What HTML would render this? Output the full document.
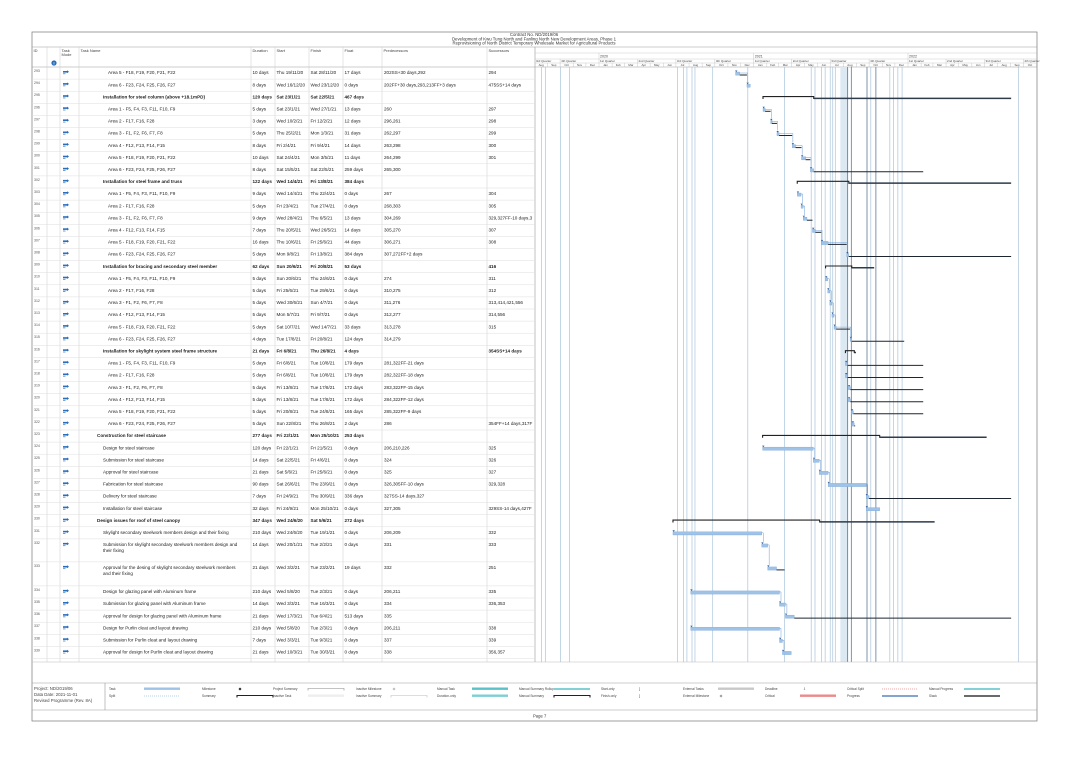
<!DOCTYPE html>
<html><head><meta charset="utf-8">
<style>
html,body{margin:0;padding:0;background:#fff;}
body{width:1069px;height:754px;overflow:hidden;font-family:"Liberation Sans",sans-serif;}
svg text{font-family:"Liberation Sans",sans-serif;}
</style></head>
<body>
<svg id="chart" width="1069" height="754" viewBox="0 0 1069 754" xmlns="http://www.w3.org/2000/svg"></svg>
<script>
const ids=[293,294,295,296,297,298,299,300,301,302,303,304,305,306,307,308,309,310,311,312,313,314,315,316,317,318,319,320,321,322,323,324,325,326,327,328,329,330,331,332,333,334,335,336,337,338,339];
const names=["Area 5 - F18, F19, F20, F21, F22","Area 6 - F23, F24, F25, F26, F27","Installation for steel column (above +18.1mPD)","Area 1 - F5, F4, F3, F11, F10, F9","Area 2 - F17, F16, F28","Area 3 - F1, F2, F6, F7, F8","Area 4 - F12, F13, F14, F15","Area 5 - F18, F19, F20, F21, F22","Area 6 - F23, F24, F25, F26, F27","Installation for steel frame and truss","Area 1 - F5, F4, F3, F11, F10, F9","Area 2 - F17, F16, F28","Area 3 - F1, F2, F6, F7, F8","Area 4 - F12, F13, F14, F15","Area 5 - F18, F19, F20, F21, F22","Area 6 - F23, F24, F25, F26, F27","Installation for bracing and secondary steel member","Area 1 - F5, F4, F3, F11, F10, F9","Area 2 - F17, F16, F28","Area 3 - F1, F2, F6, F7, F8","Area 4 - F12, F13, F14, F15","Area 5 - F18, F19, F20, F21, F22","Area 6 - F23, F24, F25, F26, F27","Installation for skylight system steel frame structure","Area 1 - F5, F4, F3, F11, F10, F9","Area 2 - F17, F16, F28","Area 3 - F1, F2, F6, F7, F8","Area 4 - F12, F13, F14, F15","Area 5 - F18, F19, F20, F21, F22","Area 6 - F23, F24, F25, F26, F27","Construction for steel staircase","Design for steel staircase","Submission for steel staircase","Approval for steel staircase","Fabrication for steel staircase","Delivery for steel staircase","Installation for steel staircase","Design issues for roof of steel canopy","Skylight secondary steelwork members design and their fixing","Submission for skylight secondary steelwork members design and|their fixing","Approval for the desing of skylight secondary steelwork members|and their fixing","Design for glazing panel with Aluminum frame","Submission for glazing panel with Aluminum frame","Approval for design for glazing panel with Aluminum frame","Design for Purlin cleat and layout drawing","Submission for Purlin cleat and layout drawing","Approval for design for Purlin cleat and layout drawing"];
const levels=[3,3,2,3,3,3,3,3,3,2,3,3,3,3,3,3,2,3,3,3,3,3,3,2,3,3,3,3,3,3,1,2,2,2,2,2,2,1,2,2,2,2,2,2,2,2,2];
const summaries=[0,0,1,0,0,0,0,0,0,1,0,0,0,0,0,0,1,0,0,0,0,0,0,1,0,0,0,0,0,0,1,0,0,0,0,0,0,1,0,0,0,0,0,0,0,0,0];
const durations=["10 days","8 days","120 days","5 days","3 days","5 days","8 days","10 days","8 days","122 days","9 days","5 days","9 days","7 days","16 days","5 days","62 days","5 days","5 days","5 days","5 days","5 days","4 days","21 days","5 days","5 days","5 days","5 days","5 days","5 days","277 days","120 days","14 days","21 days","90 days","7 days","32 days","347 days","210 days","14 days","21 days","210 days","14 days","21 days","210 days","7 days","21 days"];
const starts=["Thu 19/11/20","Wed 16/12/20","Sat 23/1/21","Sat 23/1/21","Wed 10/2/21","Thu 25/2/21","Fri 2/4/21","Sat 24/4/21","Sat 15/5/21","Wed 14/4/21","Wed 14/4/21","Fri 23/4/21","Wed 28/4/21","Thu 20/5/21","Thu 10/6/21","Mon 9/8/21","Sun 20/6/21","Sun 20/6/21","Fri 25/6/21","Wed 30/6/21","Mon 5/7/21","Sat 10/7/21","Tue 17/8/21","Fri 6/8/21","Fri 6/8/21","Fri 6/8/21","Fri 13/8/21","Fri 13/8/21","Fri 20/8/21","Sun 22/8/21","Fri 22/1/21","Fri 22/1/21","Sat 22/5/21","Sat 5/6/21","Sat 26/6/21","Fri 24/9/21","Fri 24/9/21","Wed 24/6/20","Wed 24/6/20","Wed 20/1/21","Wed 3/2/21","Wed 5/8/20","Wed 3/3/21","Wed 17/3/21","Wed 5/8/20","Wed 3/3/21","Wed 10/3/21"];
const finishes=["Sat 28/11/20","Wed 23/12/20","Sat 22/5/21","Wed 27/1/21","Fri 12/2/21","Mon 1/3/21","Fri 9/4/21","Mon 3/5/21","Sat 22/5/21","Fri 13/8/21","Thu 22/4/21","Tue 27/4/21","Thu 6/5/21","Wed 26/5/21","Fri 25/6/21","Fri 13/8/21","Fri 20/8/21","Thu 24/6/21","Tue 29/6/21","Sun 4/7/21","Fri 9/7/21","Wed 14/7/21","Fri 20/8/21","Thu 26/8/21","Tue 10/8/21","Tue 10/8/21","Tue 17/8/21","Tue 17/8/21","Tue 24/8/21","Thu 26/8/21","Mon 25/10/21","Fri 21/5/21","Fri 4/6/21","Fri 25/6/21","Thu 23/9/21","Thu 30/9/21","Mon 25/10/21","Sat 5/6/21","Tue 19/1/21","Tue 2/2/21","Tue 23/2/21","Tue 2/3/21","Tue 16/3/21","Tue 6/4/21","Tue 2/3/21","Tue 9/3/21","Tue 30/3/21"];
const floats=[17,0,467,13,12,31,14,11,259,384,0,0,13,14,44,384,53,0,0,0,0,33,124,4,179,179,172,172,165,2,253,0,0,0,0,336,0,272,0,0,19,0,0,513,0,0,0];
const preds=["202SS+30 days,292","202FF+30 days,293,213FF+3 days","","260","296,261","262,297","263,298","264,299","265,300","","267","268,303","304,269","305,270","306,271","307,272FF+2 days","","274","310,275","311,276","312,277","313,278","314,279","","281,322FF-21 days","282,322FF-18 days","283,322FF-15 days","284,322FF-12 days","285,322FF-9 days","286","","206,210,226","324","325","326,305FF-10 days","327SS-14 days,327","327,305","","206,209","331","332","206,211","334","335","206,211","337","338"];
const succs=["294","475SS+14 days","","297","298","299","300","301","","","304","305","329,327FF-10 days,3","307","308","","416","311","312","313,414,421,556","314,556","315","","354SS+14 days","","","","","","354FF+14 days,317F","","325","326","327","329,328","","329SS-14 days,427F","","332","333","251","335","336,353","","338","339","356,357"];
const rowHeights=[12.1,12.1,12.1,12.1,12.1,12.1,12.1,12.1,12.1,12.1,12.1,12.1,12.1,12.1,12.1,12.1,12.1,12.1,12.1,12.1,12.1,12.1,12.1,12.1,12.1,12.1,12.1,12.1,12.1,12.1,12.1,12.1,12.1,12.1,12.1,12.1,12.1,12.1,12.1,23,24,12.1,12.1,12.1,12.1,12.1,12.1];
const linkDates=["2019-08-18","2019-08-27","2019-10-02","2019-10-23","2020-07-05","2020-07-19","2020-07-27","2020-08-08","2020-08-15","2020-09-26","2020-12-18","2021-03-15","2021-05-17","2021-05-26","2021-06-10","2021-06-19","2021-07-01","2021-07-07","2021-07-13","2021-08-11","2021-08-20","2021-09-26","2021-10-05","2021-10-17","2021-11-19","2021-11-28","2021-12-08","2021-12-18","2022-09-19"];
const darkLinkDates=["2021-08-11","2021-08-20","2021-09-26","2021-10-17"];
const monthAbbr=["Jan","Feb","Mar","Apr","May","Jun","Jul","Aug","Sep","Oct","Nov","Dec"];
const quarterNames=["1st Quarter","2nd Quarter","3rd Quarter","4th Quarter"];
const years=[2020,2021,2022];

const NS="http://www.w3.org/2000/svg";
const svg=document.getElementById('chart');
function el(tag,attrs,parent){const e=document.createElementNS(NS,tag);for(const k in attrs)e.setAttribute(k,attrs[k]);(parent||svg).appendChild(e);return e;}
function txt(x,y,s,size,attrs,parent){const t=el('text',Object.assign({x:x,y:y,'font-size':size,fill:'#222'},attrs||{}),parent);t.textContent=s;return t;}

const GX0=535,GX1=1037,TOP=67;
const ORIGIN=Date.UTC(2020,0,1), X2020=599, PXD=(908-599)/731;
function pd(s){const p=s.split(' ')[1].split('/');return Date.UTC(2000+ +p[2],+p[1]-1,+p[0]);}
function xd(ms){return X2020+(ms-ORIGIN)/86400000*PXD;}
function xs(iso){const p=iso.split('-');return xd(Date.UTC(+p[0],+p[1]-1,+p[2]));}

const frame=el('rect',{x:32,y:32,width:1005,height:689,fill:'none',stroke:'#888','stroke-width':0.8});

const titles=["Contract No. ND/2019/06","Development of Kwu Tung North and Fanling North New Development Areas, Phase 1","Reprovisioning of North District Temporary Wholesale Market for Agricultural Products"];
titles.forEach((s,i)=>{const t=txt(534,36+i*4.3,s,4.3,{'text-anchor':'middle',fill:'#333'});});

el('line',{x1:32,y1:47,x2:1037,y2:47,stroke:'#999','stroke-width':0.6});
el('line',{x1:32,y1:TOP,x2:1037,y2:TOP,stroke:'#999','stroke-width':0.6});
const cols=[{x:32,n:'ID'},{x:47,n:''},{x:60,n:'Task Mode'},{x:79,n:'Task Name'},{x:251,n:'Duration'},{x:275,n:'Start'},{x:309,n:'Finish'},{x:343,n:'Float'},{x:382,n:'Predecessors'},{x:487,n:'Successors'}];
cols.forEach((c,i)=>{
  if(i>0){el('line',{x1:c.x,y1:47,x2:c.x,y2:662,stroke:'#ccc','stroke-width':0.5});}
  if(c.n){const t=txt(c.x+1.5,52,c.n==='Task Mode'?'Task':c.n,4,{fill:'#444'});
    if(c.n==='Task Mode'){txt(c.x+1.5,56,'Mode',4,{fill:'#444'});}}
});
const info=el('circle',{cx:54,cy:63,r:2.6,fill:'#2a6ebb'});
txt(54,64.5,'i',3.5,{fill:'#fff','text-anchor':'middle','font-weight':'bold'});
el('line',{x1:GX0,y1:47,x2:GX0,y2:662,stroke:'#999','stroke-width':0.6});

const tl=el('g',{});
el('line',{x1:GX0,y1:53,x2:GX1,y2:53,stroke:'#bbb','stroke-width':0.4},tl);
el('line',{x1:GX0,y1:59,x2:GX1,y2:59,stroke:'#bbb','stroke-width':0.4},tl);
el('line',{x1:GX0,y1:63,x2:GX1,y2:63,stroke:'#bbb','stroke-width':0.4},tl);
years.forEach(y=>{const x=xd(Date.UTC(y,0,1));el('line',{x1:x,y1:53,x2:x,y2:59,stroke:'#bbb','stroke-width':0.4},tl);const t=txt(x+1,57.5,String(y),3.6,{fill:'#444'},tl);});
for(let y=2019;y<=2022;y++){for(let m=0;m<12;m++){
  const x=xd(Date.UTC(y,m,1)), xn=xd(Date.UTC(y,m+1,1));
  if(xn<GX0||x>GX1)continue;
  const cx=Math.max(x,GX0);
  if(x>=GX0)el('line',{x1:x,y1:63,x2:x,y2:67,stroke:'#bbb','stroke-width':0.4},tl);
  if(x>=GX0-2 && xn<=GX1+4){const t=txt((cx+Math.min(xn,GX1))/2,66.2,monthAbbr[m],2.9,{'text-anchor':'middle',fill:'#444'},tl);}
  if(m%3===0){ if(x>=GX0)el('line',{x1:x,y1:59,x2:x,y2:63,stroke:'#bbb','stroke-width':0.4},tl);
    const t=txt(cx+1,62.2,quarterNames[m/3],3,{fill:'#444'},tl);}
}}
txt(GX0+1,62.2,'3rd Quarter',3,{fill:'#444'},tl);

el('rect',{x:xs("2021-07-25"),y:TOP,width:8,height:595,fill:'#dce8f2'});
linkDates.forEach(d=>{const x=xs(d);const dark=darkLinkDates.includes(d);const l=el('line',{x1:x,y1:TOP,x2:x,y2:662,stroke:dark?'#6f8aa2':'#a9c4da','stroke-width':dark?0.9:0.7});});

let y=TOP;
const rowTops=[];
ids.forEach((id,i)=>{
  const h=rowHeights[i]; rowTops.push(y);
  const g=el('g',{});  
  el('line',{x1:32,y1:y+h,x2:GX0,y2:y+h,stroke:'#ddd','stroke-width':0.5},g);
  const ty=y+7.2, fs=4.6, bold=summaries[i]?'bold':'normal';
  txt(34,y+5,String(id),3.5,{fill:'#555'},g);
  el('rect',{x:63,y:y+4,width:4,height:1.6,fill:'#2a6ebb'},g);
  el('path',{d:`M67 ${y+3.3} l2 1.5 l-2 1.5 z`,fill:'#2a6ebb'},g);
  el('rect',{x:63,y:y+6.2,width:2.5,height:1,fill:'#6d9dd5'},g);
  const ind={1:97,2:103,3:108}[levels[i]];
  names[i].split('|').forEach((ln,k)=>{txt(ind,ty+k*6,ln,fs,{'font-weight':bold},g);});
  txt(252.5,ty,durations[i],fs,{'font-weight':bold},g);
  txt(276.5,ty,starts[i],fs,{'font-weight':bold},g);
  txt(310.5,ty,finishes[i],fs,{'font-weight':bold},g);
  txt(344.5,ty,floats[i]+' days',fs,{'font-weight':bold},g);
  txt(384,ty,preds[i],fs,{},g);
  txt(488.5,ty,succs[i],fs,{'font-weight':summaries[i]?'bold':'normal'},g);
  const xa=xd(pd(starts[i])), xb=xd(pd(finishes[i])+86400000), xf=Math.min(GX1,xb+floats[i]*PXD);
  const cy=y+6;
  if(summaries[i]){
    const b=el('path',{d:`M${xa} ${cy+1.8} L${xa} ${cy-0.6} L${xb} ${cy-0.6} L${xb} ${cy+1.8}`,fill:'none',stroke:'#222','stroke-width':1.1});
    
    if(floats[i]>0){const s=el('line',{x1:xb,y1:cy+1.2,x2:xf,y2:cy+1.2,stroke:'#2d3b4a','stroke-width':1.5});}
  } else {
    const b=el('rect',{x:xa,y:cy-1,width:Math.max(1.5,xb-xa),height:3.2,fill:'#9fc2e7',stroke:'#6e9ed4','stroke-width':0.3});
    
    el('path',{d:`M${xa-0.5} ${cy-2.5} l2.4 0 l-1.2 1.6 z`,fill:'#2a5d9a'});
    if(floats[i]>0){const s=el('line',{x1:xb,y1:cy+2,x2:xf,y2:cy+2,stroke:'#1d2630','stroke-width':1});}
  }
  y+=h;
});
ids.forEach((id,i)=>{
  if(i+1>=ids.length||summaries[i]||summaries[i+1])return;
  if(!succs[i].split(',').includes(String(ids[i+1])))return;
  const xb=xd(pd(finishes[i])+86400000), xa=xd(pd(starts[i+1]));
  const y1=rowTops[i]+6, y2=rowTops[i+1]+3;
  const c=el('path',{d:`M${xb} ${y1} L${Math.max(xb+1.5,xa+0.7)} ${y1} L${Math.max(xb+1.5,xa+0.7)} ${y2}`,fill:'none',stroke:'#6e9ed4','stroke-width':0.5});
  
});

el('line',{x1:32,y1:662,x2:1037,y2:662,stroke:'#bbb','stroke-width':0.6});
el('line',{x1:32,y1:683,x2:1037,y2:683,stroke:'#999','stroke-width':0.6});
el('line',{x1:32,y1:710,x2:1037,y2:710,stroke:'#999','stroke-width':0.6});
el('line',{x1:105,y1:683,x2:105,y2:710,stroke:'#999','stroke-width':0.6});
const fl=["Project: ND/2019/06","Data Date: 2021-11-01","Revised Programme (Rev. 8A)"];
fl.forEach((s,i)=>{const t=txt(34,690+i*6,s,4.3,{fill:'#444'});});
const pg=txt(533,717.5,'Page 7',4.2,{fill:'#333'});

const leg=el('g',{});
const legendItems=[
 [109,689,'Task','bar','#9fc2e7'],[109,696,'Split','dots','#9fc2e7'],
 [202,689,'Milestone','diamond','#222'],[202,696,'Summary','sum','#222'],
 [273,689,'Project Summary','psum','#888'],[273,696,'Inactive Task','bar','#eee'],
 [356,689,'Inactive Milestone','dia2','#bbb'],[356,696,'Inactive Summary','psum','#bbb'],
 [437,689,'Manual Task','bar','#5bc0c8'],[437,696,'Duration-only','bar','#7ccfd6'],
 [519,689,'Manual Summary Rollup','line','#3bb3bf'],[519,696,'Manual Summary','sum','#222'],
 [601,689,'Start-only','tx','['],[601,696,'Finish-only','tx',']'],
 [683,689,'External Tasks','bar','#c8c8c8'],[683,696,'External Milestone','dia2','#999'],
 [765,689,'Deadline','tx','⇩'],[765,696,'Critical','bar','#ea8a8a'],
 [847,689,'Critical Split','dots','#ea8a8a'],[847,696,'Progress','line','#3a6fb0'],
 [929,689,'Manual Progress','line','#3bb3bf'],[929,696,'Slack','line','#111']
];
legendItems.forEach(it=>{
  const [x,yy,lab,kind,col]=it;
  const t=txt(x,yy+1,lab,3.2,{fill:'#444'},leg);
  const sx=x+35,sw=36;
  if(kind==='bar')el('rect',{x:sx,y:yy-1.5,width:sw,height:2.4,fill:col},leg);
  else if(kind==='dots')el('line',{x1:sx,y1:yy,x2:sx+sw,y2:yy,stroke:col,'stroke-width':0.8,'stroke-dasharray':'1 1'},leg);
  else if(kind==='line')el('line',{x1:sx,y1:yy,x2:sx+sw,y2:yy,stroke:col,'stroke-width':1.2},leg);
  else if(kind==='sum')el('path',{d:`M${sx} ${yy+1.5} L${sx} ${yy-0.5} L${sx+sw} ${yy-0.5} L${sx+sw} ${yy+1.5}`,fill:'none',stroke:col,'stroke-width':1.1},leg);
  else if(kind==='psum')el('path',{d:`M${sx} ${yy+1.5} L${sx} ${yy-0.5} L${sx+sw} ${yy-0.5} L${sx+sw} ${yy+1.5}`,fill:'none',stroke:col,'stroke-width':0.6},leg);
  else if(kind==='diamond'||kind==='dia2')el('path',{d:`M${sx+3} ${yy-1.5} l1.5 1.5 l-1.5 1.5 l-1.5 -1.5 z`,fill:col},leg);
  else if(kind==='tx')txt(sx+3,yy+1,col,3.5,{fill:'#444'},leg);
});
</script>
</body></html>
